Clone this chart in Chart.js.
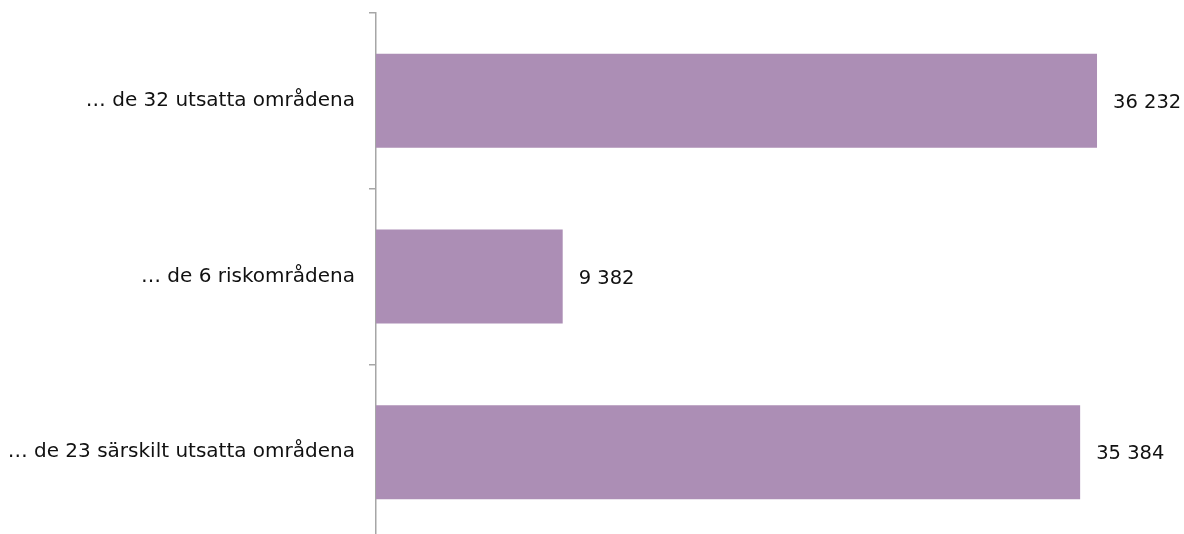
<!DOCTYPE html>
<html lang="sv">
<head>
<meta charset="utf-8">
<title>Områden</title>
<script src="https://cdn.jsdelivr.net/npm/chart.js@4"></script>
<style>
  html, body { margin: 0; padding: 0; background: #fff; overflow: hidden; }
  #wrap { width: 1184px; height: 579px; margin-top: -13px; position: relative; }
</style>
</head>
<body>
<div id="wrap"><canvas id="chartBars"></canvas></div>
<script>
// kategorier och värden
let labelsBars = ['… de 32 utsatta områdena', '… de 6 riskområdena', '… de 23 särskilt utsatta områdena'];
let dataBars = [36232, 9382, 35384];
let xMin = 0;
let xMax = 40000;

const fontFamily = '"DejaVu Sans", "Liberation Sans", sans-serif';

function formatNumber(n) {
    return String(n).replace(/\B(?=(\d{3})+(?!\d))/g, ' ');
}

// skriver värdet till höger om varje stapel
const valueLabels = {
    id: 'valueLabels',
    afterDatasetsDraw(chart) {
        const ctx = chart.ctx;
        ctx.save();
        ctx.font = '19.5px ' + fontFamily;
        ctx.fillStyle = '#111';
        ctx.textBaseline = 'middle';
        ctx.textAlign = 'left';
        chart.getDatasetMeta(0).data.forEach((bar, i) => {
            ctx.fillText(formatNumber(dataBars[i]), bar.x + 16, bar.y + 2);
        });
        ctx.restore();
    }
};

let ctxBars = document.getElementById('chartBars');

let myChart = new Chart(ctxBars, {
    type: 'bar',
    data: {
        labels: labelsBars,
        datasets: [{
            data: dataBars,
            backgroundColor: '#ac8eb5',
            borderWidth: 0,
            barPercentage: 0.535,
            categoryPercentage: 1
        }]
    },
    options: {
        indexAxis: 'y',
        responsive: true,
        maintainAspectRatio: false,
        animation: false,
        layout: {
            padding: { top: 3, right: 12, bottom: 0, left: 0 }
        },
        plugins: {
            legend: { display: false },
            tooltip: { enabled: false }
        },
        scales: {
            x: {
                display: false,
                min: xMin,
                max: xMax
            },
            y: {
                offset: true,
                afterFit: (scale) => { scale.width = 376; },
                border: { display: true, color: '#a6a6a6', width: 1.5 },
                grid: {
                    offset: true,
                    drawOnChartArea: false,
                    color: '#a6a6a6',
                    lineWidth: 1.5,
                    tickLength: 7
                },
                ticks: {
                    color: '#111',
                    padding: 14,
                    font: { family: fontFamily, size: 20 }
                }
            }
        }
    },
    plugins: [valueLabels]
});
</script>
</body>
</html>
